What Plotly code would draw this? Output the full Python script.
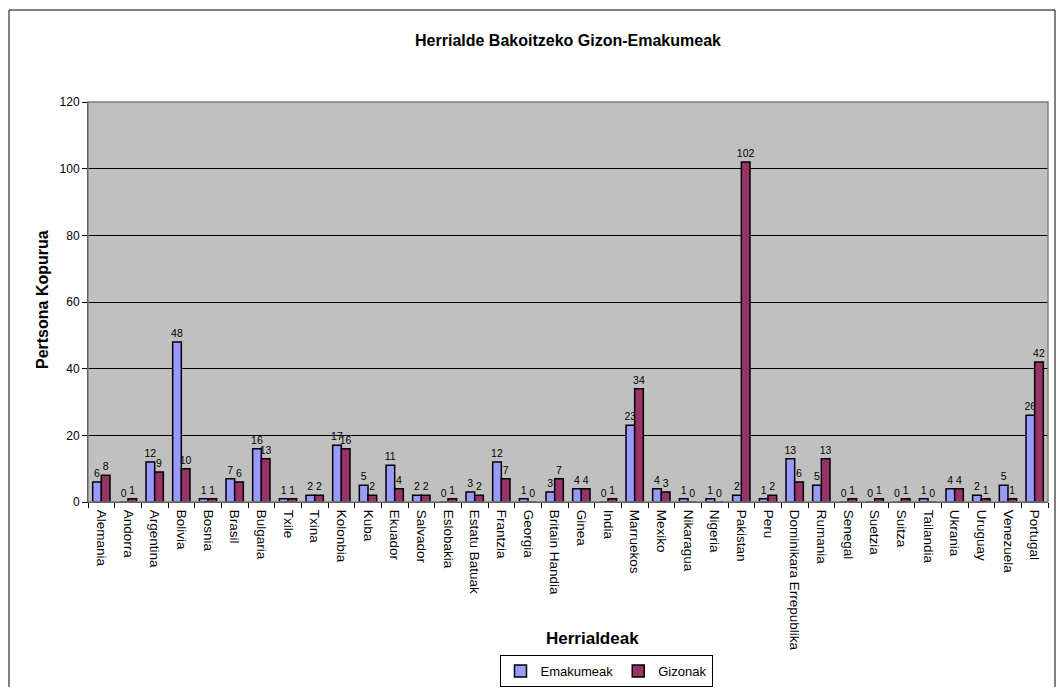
import plotly.graph_objects as go

countries = ["Alemania", "Andorra", "Argentina", "Bolivia", "Bosnia", "Brasil", "Bulgaria",
             "Txile", "Txina", "Kolonbia", "Kuba", "Ekuador", "Salvador", "Eslobakia",
             "Estatu Batuak", "Frantzia", "Georgia", "Britain Handia", "Ginea", "India",
             "Marruekos", "Mexiko", "Nikaragua", "Nigeria", "Pakistan", "Peru",
             "Dominikara Errepublika", "Rumania", "Senegal", "Suetzia", "Suitza",
             "Tailandia", "Ukrania", "Uruguay", "Venezuela", "Portugal"]
emakumeak = [6, 0, 12, 48, 1, 7, 16, 1, 2, 17, 5, 11, 2, 0, 3, 12, 1, 3, 4, 0,
             23, 4, 1, 1, 2, 1, 13, 5, 0, 0, 0, 1, 4, 2, 5, 26]
gizonak = [8, 1, 9, 10, 1, 6, 13, 1, 2, 16, 2, 4, 2, 1, 2, 7, 0, 7, 4, 1,
           34, 3, 0, 0, 102, 2, 6, 13, 1, 1, 1, 0, 4, 1, 1, 42]
y_ticks = [0, 20, 40, 60, 80, 100, 120]

FONT = "Liberation Sans, Arial, sans-serif"

fig = go.Figure()
fig.add_trace(go.Bar(name="Emakumeak", x=countries, y=emakumeak,
                     marker=dict(color="#9999FF", line=dict(color="black", width=1.5)),
                     text=emakumeak, textposition="outside", cliponaxis=False,
                     textfont=dict(size=10.5, color="black", family=FONT)))
fig.add_trace(go.Bar(name="Gizonak", x=countries, y=gizonak,
                     marker=dict(color="#993366", line=dict(color="black", width=1.5)),
                     text=gizonak, textposition="outside", cliponaxis=False,
                     textfont=dict(size=10.5, color="black", family=FONT)))

# figure size accounts for the 8px page margin of the html body
W, H = 1048, 679
L, T = 80, 94
PR, PB = 1040, 494          # plot right / bottom in figure pixels
R, B = W - PR, H - PB
pw, ph = PR - L, PB - T

def px_x(v):
    return (v - L) / pw

def px_y(v):
    return (PB - v) / ph

# outer chart border
fig.add_shape(type="rect", xref="paper", yref="paper",
              x0=px_x(1), x1=px_x(1047), y0=px_y(682), y1=px_y(2),
              line=dict(color="black", width=1), fillcolor="rgba(0,0,0,0)", layer="below")

fig.update_layout(
    width=W, height=H,
    margin=dict(l=L, r=R, t=T, b=B, autoexpand=False),
    paper_bgcolor="white", plot_bgcolor="#C0C0C0",
    barmode="group", bargap=0.35, bargroupgap=0,
    font=dict(family=FONT, color="black"),
    uniformtext=dict(minsize=10, mode="show"),
    title=dict(text="<b>Herrialde Bakoitzeko Gizon-Emakumeak</b>", x=0.5, xanchor="center",
               xref="paper",
               y=1 - 32 / H, yanchor="middle", font=dict(size=16, family=FONT)),
    xaxis=dict(tickangle=90, tickfont=dict(size=13.5, family=FONT), showgrid=False,
               ticks="outside", ticklen=5, tickson="boundaries", tickcolor="black",
               ticklabelstandoff=4,
               showline=True, linecolor="black", linewidth=1, mirror=False,
               automargin=False),
    yaxis=dict(range=[0, 120], tickvals=y_ticks, tickfont=dict(size=12, family=FONT),
               showgrid=True, gridcolor="black", gridwidth=1, zeroline=False,
               ticks="outside", ticklen=5, tickcolor="black",
               showline=True, linecolor="black", linewidth=1,
               automargin=False),
    legend=dict(orientation="h", xref="container", yref="container",
                x=598 / W, xanchor="center", y=0, yanchor="bottom",
                bordercolor="black", borderwidth=1, bgcolor="white",
                font=dict(size=13, family=FONT), itemwidth=30, traceorder="normal",
                tracegroupgap=0),
    showlegend=True,
    annotations=[
        dict(text="<b>Herrialdeak</b>", xref="paper", yref="paper",
             x=px_x(584), y=px_y(630), xanchor="center", yanchor="middle",
             showarrow=False, font=dict(size=17, family=FONT)),
        dict(text="<b>Pertsona Kopurua</b>", xref="paper", yref="paper",
             x=px_x(34), y=px_y(292), xanchor="center", yanchor="middle", textangle=-90,
             showarrow=False, font=dict(size=16, family=FONT)),
    ],
)

# grey border around the plot area (top/right)
fig.add_shape(type="rect", xref="paper", yref="paper", x0=0, x1=1, y0=0, y1=1,
              line=dict(color="#808080", width=1.5), fillcolor="rgba(0,0,0,0)")

fig.write_html("out.html")
